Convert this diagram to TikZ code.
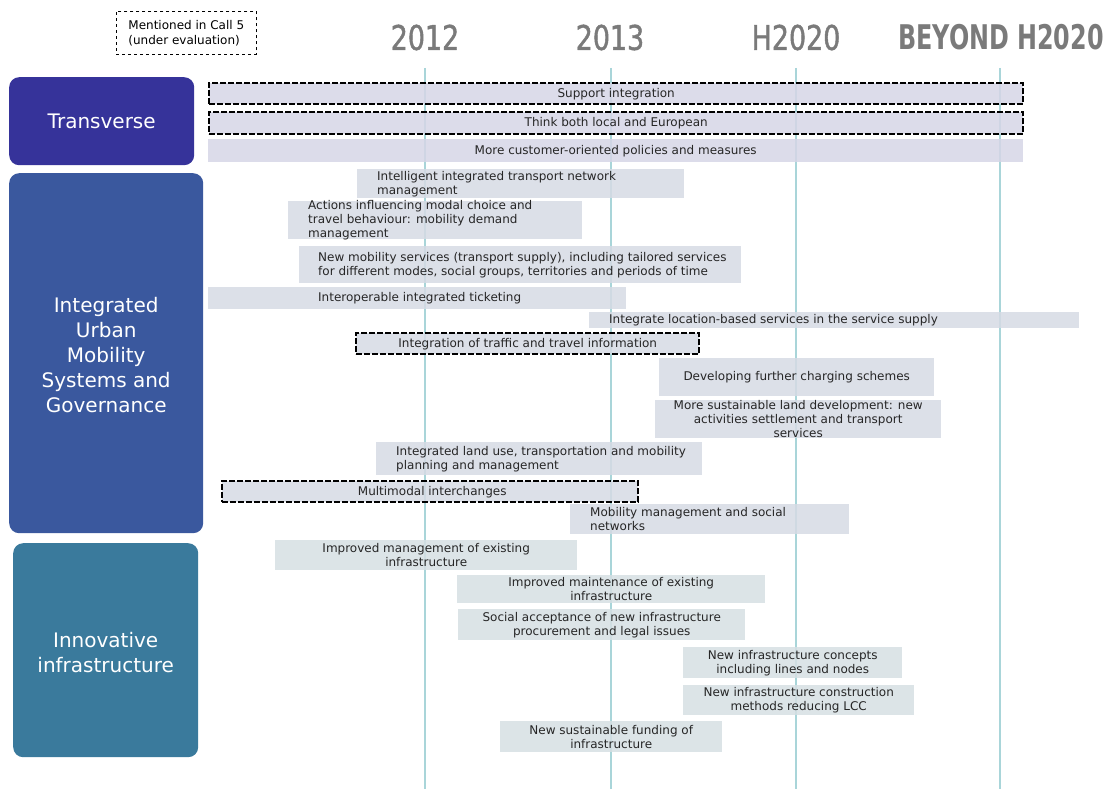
\documentclass[tikz,border=0pt]{standalone}
\usepackage{fontspec}
\setmainfont{DejaVu Sans}
\newfontfamily\hdfont[FakeStretch=0.88,FakeBold=1.2]{DejaVu Sans Condensed}
\newfontfamily\hdbfont[FakeStretch=0.78]{DejaVu Sans Condensed Bold}
\definecolor{catA}{HTML}{36339A}
\definecolor{catB}{HTML}{3A589E}
\definecolor{catC}{HTML}{3A7A9C}
\definecolor{barA}{HTML}{D6D6E6}
\definecolor{barB}{HTML}{D6DAE4}
\definecolor{barC}{HTML}{D6DFE3}
\definecolor{vline}{HTML}{A9D5D9}
\definecolor{hdgray}{HTML}{7A7A7A}
\tikzset{
  catbox/.style={rounded corners=10pt, inner sep=0pt, anchor=north west},
  cattext/.style={text=white, align=center, font=\fontsize{20}{25}\selectfont, inner sep=0pt},
  barbox/.style={fill opacity=0.85, inner sep=0pt, anchor=north west},
  dashbox/.style={draw=black, line width=2.4pt, dash pattern=on 6pt off 2pt},
  bartext/.style={font=\fontsize{12}{14}\selectfont, inner sep=0pt, text=black!85},
  hd/.style={font=\hdfont\fontsize{34}{34}\selectfont, text=hdgray, inner sep=0pt},
}
\newcommand{\mybar}[7]{% name, x1, y1, x2, y2, fill, extra style
  \node[barbox, fill=#6, minimum width=#4-#2, minimum height=#5-#3, #7] (#1) at (#2,#3) {};}
\begin{document}
\begin{tikzpicture}[x=1pt,y=-1pt]
\useasboundingbox (0,0) rectangle (1108,789);
% legend
\node[draw, dashed, line width=0.6pt, minimum width=140, minimum height=43, anchor=north west, inner sep=0pt] (leg) at (116,11) {};
\node[font=\fontsize{12}{15}\selectfont, align=left, inner sep=0pt] (legt) at (leg.center) {Mentioned in Call 5\\(under evaluation)};
% headers
\node[hd] (h1) at (425,37.5) {2012};
\node[hd] (h2) at (610,37.5) {2013};
\node[hd] (h3) at (796,37.5) {H2020};
\node[hd, font=\hdbfont\fontsize{34}{34}\selectfont, anchor=west] (h4) at (898,37.5) {BEYOND H2020};
% vertical lines
\coordinate (v1t) at (425,68); \coordinate (v1b) at (425,789);
\coordinate (v2t) at (611,68); \coordinate (v2b) at (611,789);
\coordinate (v3t) at (796,68); \coordinate (v3b) at (796,789);
\coordinate (v4t) at (1000,68); \coordinate (v4b) at (1000,789);
\foreach \i in {1,2,3,4} \draw[vline, line width=1.3pt] (v\i t) -- (v\i b);
% categories
\node[catbox, fill=catA, minimum width=185, minimum height=88] (cA) at (9,77) {};
\node[cattext] (cAt) at (cA.center) {Transverse};
\node[catbox, fill=catB, minimum width=194, minimum height=360] (cB) at (9,173) {};
\node[cattext] (cBt) at ([yshift=-2]cB.center) {Integrated\\Urban\\Mobility\\Systems and\\Governance};
\node[catbox, fill=catC, minimum width=185, minimum height=214] (cC) at (13,543) {};
\node[cattext] (cCt) at ([yshift=-2]cC.center) {Innovative\\infrastructure};
% transverse bars
\mybar{b1}{208}{82}{1022}{103}{barA}{dashbox}
\node[bartext] (t1) at (b1.center) {Support integration};
\mybar{b2}{208}{111}{1022}{133}{barA}{dashbox}
\node[bartext] (t2) at (b2.center) {Think both local and European};
\mybar{b3}{208}{139}{1023}{162}{barA}{}
\node[bartext] (t3) at (b3.center) {More customer-oriented policies and measures};
% integrated bars
\mybar{b4}{357}{169}{684}{198}{barB}{}
\node[bartext, anchor=west, align=left] (t4) at ([xshift=20]b4.west) {Intelligent integrated transport network\\management};
\mybar{b5}{288}{201}{582}{239}{barB}{}
\node[bartext, anchor=west, align=left] (t5) at ([xshift=20]b5.west) {Actions influencing modal choice and\\travel behaviour: mobility demand\\management};
\mybar{b6}{299}{246}{741}{283}{barB}{}
\node[bartext, anchor=west, align=left] (t6) at ([xshift=19]b6.west) {New mobility services (transport supply), including tailored services\\for different modes, social groups, territories and periods of time};
\mybar{b7}{208}{287}{626}{309}{barB}{}
\node[bartext, anchor=west, align=left] (t7) at ([xshift=110]b7.west) {Interoperable integrated ticketing};
\mybar{b8}{589}{312}{1079}{328}{barB}{}
\node[bartext, anchor=west, align=left] (t8) at ([xshift=20]b8.west) {Integrate location-based services in the service supply};
\mybar{b9}{355}{332}{698}{353}{barB}{dashbox}
\node[bartext] (t9) at (b9.center) {Integration of traffic and travel information};
\mybar{b10}{659}{358}{934}{396}{barB}{}
\node[bartext] (t10) at (b10.center) {Developing further charging schemes};
\mybar{b11}{655}{400}{941}{438}{barB}{}
\node[bartext, align=center] (t11) at (b11.center) {More sustainable land development: new\\activities settlement and transport\\services};
\mybar{b12}{376}{442}{702}{475}{barB}{}
\node[bartext, anchor=west, align=left] (t12) at ([xshift=20]b12.west) {Integrated land use, transportation and mobility\\planning and management};
\mybar{b13}{221}{480}{637}{501}{barB}{dashbox}
\node[bartext] (t13) at ([xshift=2]b13.center) {Multimodal interchanges};
\mybar{b14}{570}{504}{849}{534}{barB}{}
\node[bartext, anchor=west, align=left] (t14) at ([xshift=20]b14.west) {Mobility management and social\\networks};
% infrastructure bars
\mybar{b15}{275}{540}{577}{570}{barC}{}
\node[bartext, align=center] (t15) at (b15.center) {Improved management of existing\\infrastructure};
\mybar{b16}{457}{575}{765}{603}{barC}{}
\node[bartext, align=center] (t16) at (b16.center) {Improved maintenance of existing\\infrastructure};
\mybar{b17}{458}{609}{745}{640}{barC}{}
\node[bartext, align=center] (t17) at (b17.center) {Social acceptance of new infrastructure\\procurement and legal issues};
\mybar{b18}{683}{647}{902}{678}{barC}{}
\node[bartext, align=center] (t18) at (b18.center) {New infrastructure concepts\\including lines and nodes};
\mybar{b19}{683}{685}{914}{715}{barC}{}
\node[bartext, align=center] (t19) at (b19.center) {New infrastructure construction\\methods reducing LCC};
\mybar{b20}{500}{721}{722}{752}{barC}{}
\node[bartext, align=center] (t20) at (b20.center) {New sustainable funding of\\infrastructure};
\end{tikzpicture}
\end{document}
